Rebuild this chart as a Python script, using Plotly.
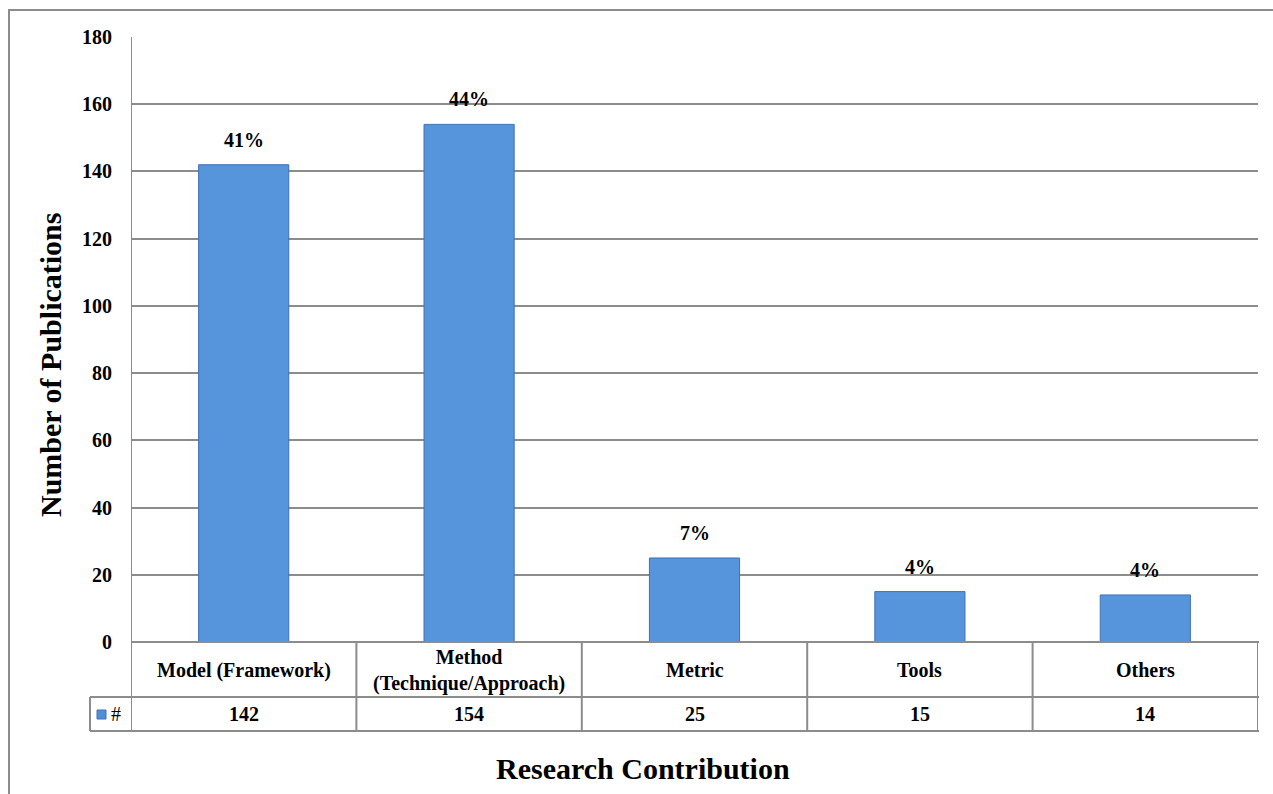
import plotly.graph_objects as go

categories = ["Model (Framework)", "Method<br>(Technique/Approach)", "Metric", "Tools", "Others"]
counts = [142, 154, 25, 15, 14]
percent_labels = ["41%", "44%", "7%", "4%", "4%"]
y_ticks = [0, 20, 40, 60, 80, 100, 120, 140, 160, 180]

W, H = 1273, 794
L, R, T, B = 131, 1258, 37, 642

def px(x):
    return (x - L) / (R - L)

def py(y):
    return (B - y) / (B - T)

FONT = "Liberation Serif"
GRID = "#8c8c8c"
xs = list(range(len(categories)))

fig = go.Figure()
fig.add_trace(go.Bar(
    x=xs, y=counts, width=0.4,
    marker=dict(color="#5694DC", line=dict(color="#3f72b5", width=1)),
    showlegend=False, hoverinfo="skip",
))

annotations = []
for i, (v, p) in enumerate(zip(counts, percent_labels)):
    annotations.append(dict(x=i, y=v, xref="x", yref="y", text=f"<b>{p}</b>", showarrow=False,
                            yanchor="bottom", yshift=12, font=dict(family=FONT, size=20, color="black")))
    annotations.append(dict(x=i, y=py(670), xref="x", yref="paper", text=f"<b>{categories[i]}</b>", showarrow=False,
                            yanchor="middle", font=dict(family=FONT, size=20, color="black")))
    annotations.append(dict(x=i, y=py(714), xref="x", yref="paper", text=f"<b>{v}</b>", showarrow=False,
                            yanchor="middle", font=dict(family=FONT, size=20, color="black")))

annotations.append(dict(x=px(116), y=py(714), xref="paper", yref="paper", text="#", showarrow=False,
                        xanchor="center", yanchor="middle", font=dict(family=FONT, size=20, color="black")))
annotations.append(dict(x=px(50), y=py(365), xref="paper", yref="paper", text="<b>Number of Publications</b>",
                        showarrow=False, textangle=-90, xanchor="center", yanchor="middle",
                        font=dict(family=FONT, size=30, color="black")))
annotations.append(dict(x=px(643), y=py(768), xref="paper", yref="paper", text="<b>Research Contribution</b>",
                        showarrow=False, xanchor="center", yanchor="middle",
                        font=dict(family=FONT, size=30, color="black")))

shapes = []
# outer border (cropped on right and bottom)
shapes.append(dict(type="rect", xref="paper", yref="paper", x0=px(9), x1=px(1300), y0=py(820), y1=py(10),
                   line=dict(color=GRID, width=2)))
# table horizontal lines
for yy, x0 in [(642, L), (697, 90), (731, 90)]:
    shapes.append(dict(type="line", xref="paper", yref="paper", x0=px(x0), x1=px(1259), y0=py(yy), y1=py(yy),
                       line=dict(color=GRID, width=2)))
# table vertical lines
shapes.append(dict(type="line", xref="paper", yref="paper", x0=px(90), x1=px(90), y0=py(697), y1=py(731),
                   line=dict(color=GRID, width=2)))
for k in range(len(categories) + 1):
    shapes.append(dict(type="line", xref="x", yref="paper", x0=k - 0.5, x1=k - 0.5,
                       y0=py(731), y1=py(642) if k > 0 else 1,
                       line=dict(color=GRID, width=2)))
# legend key square
shapes.append(dict(type="rect", xref="paper", yref="paper", x0=px(97), x1=px(106), y0=py(719), y1=py(710),
                   fillcolor="#4f8fd8", line=dict(color="#3f72b5", width=1)))

fig.update_layout(
    width=W, height=H,
    margin=dict(l=L, r=W - R, t=T, b=H - B),
    paper_bgcolor="white", plot_bgcolor="white",
    bargap=0.6,
    xaxis=dict(range=[-0.5, 4.5], showticklabels=False, showgrid=False, zeroline=False, showline=False),
    yaxis=dict(range=[0, 180], tickvals=y_ticks, ticktext=[f"<b>{t}</b>" for t in y_ticks],
               tickfont=dict(family=FONT, size=20, color="black"), ticklabelstandoff=18,
               showgrid=True, gridcolor=GRID, gridwidth=2, zeroline=False, showline=False),
    annotations=annotations,
    shapes=shapes,
)

fig.write_html("out.html")
